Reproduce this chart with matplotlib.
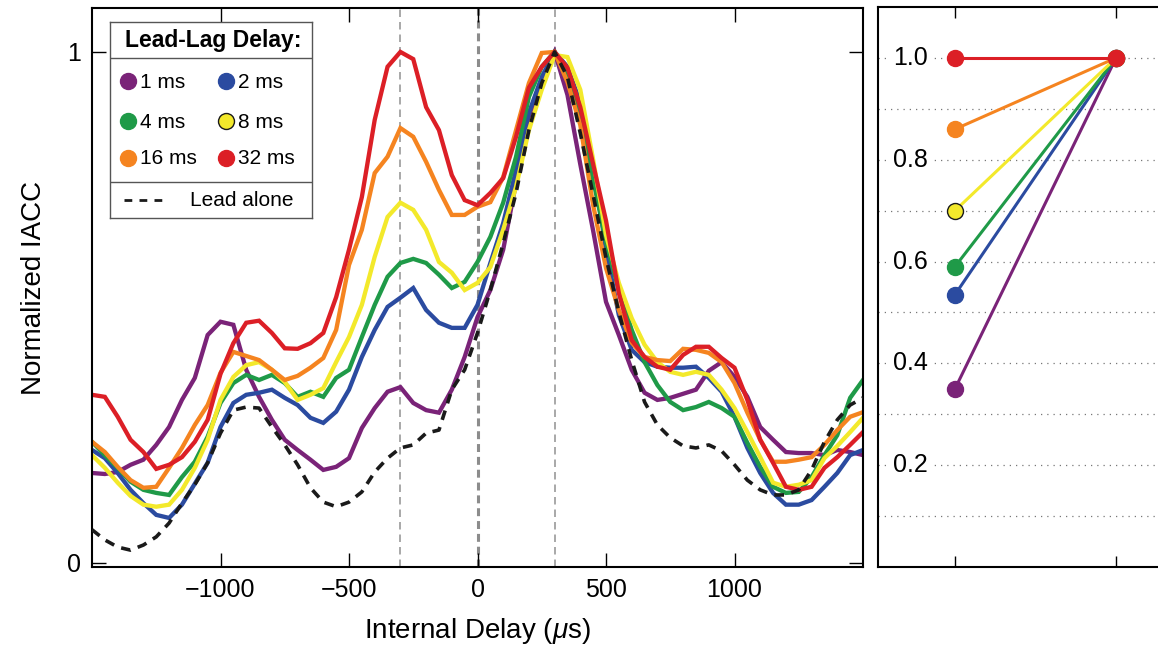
import numpy as np
import matplotlib
matplotlib.use("Agg")
import matplotlib.pyplot as plt

plt.rcParams["font.family"] = ["Liberation Sans", "DejaVu Sans"]
plt.rcParams["mathtext.fontset"] = "custom"
plt.rcParams["mathtext.it"] = "Liberation Sans:italic"
plt.rcParams["mathtext.rm"] = "Liberation Sans"

# internal delay grid (us)
delays = np.arange(-1500, 1501, 50)

lead_lag = ["1 ms", "2 ms", "4 ms", "8 ms", "16 ms", "32 ms"]
colors = ["#7a2378", "#2b4ba0", "#1f9a48", "#f3e92b", "#f58420", "#dc1f26"]

iacc_1ms = [0.176, 0.174, 0.178, 0.192, 0.202, 0.231, 0.266, 0.319, 0.362, 0.446,
            0.472, 0.466, 0.378, 0.325, 0.280, 0.241, 0.221, 0.202, 0.182, 0.188,
            0.205, 0.264, 0.303, 0.335, 0.344, 0.313, 0.299, 0.294, 0.339, 0.403,
            0.481, 0.534, 0.613, 0.744, 0.871, 0.945, 1.000, 0.916, 0.780, 0.650,
            0.511, 0.446, 0.378, 0.333, 0.319, 0.323, 0.331, 0.339, 0.376, 0.393,
            0.364, 0.325, 0.266, 0.241, 0.217, 0.215, 0.215, 0.211, 0.221, 0.217, 0.211]
iacc_2ms = [0.221, 0.205, 0.176, 0.143, 0.117, 0.094, 0.088, 0.114, 0.155, 0.196,
            0.266, 0.313, 0.329, 0.333, 0.339, 0.323, 0.309, 0.284, 0.274, 0.296,
            0.339, 0.403, 0.456, 0.501, 0.519, 0.538, 0.495, 0.470, 0.460, 0.460,
            0.505, 0.587, 0.665, 0.769, 0.881, 0.951, 1.000, 0.971, 0.900, 0.780,
            0.613, 0.485, 0.417, 0.393, 0.384, 0.382, 0.382, 0.384, 0.362, 0.335,
            0.286, 0.225, 0.176, 0.137, 0.114, 0.114, 0.123, 0.149, 0.176, 0.211, 0.221]
iacc_4ms = [0.237, 0.211, 0.186, 0.159, 0.143, 0.137, 0.133, 0.168, 0.198, 0.247,
            0.313, 0.352, 0.368, 0.358, 0.368, 0.352, 0.325, 0.335, 0.325, 0.362,
            0.378, 0.442, 0.505, 0.560, 0.587, 0.595, 0.587, 0.564, 0.538, 0.550,
            0.589, 0.638, 0.705, 0.795, 0.912, 0.971, 1.000, 0.955, 0.867, 0.750,
            0.628, 0.534, 0.456, 0.393, 0.348, 0.315, 0.299, 0.305, 0.315, 0.303,
            0.286, 0.235, 0.188, 0.149, 0.137, 0.139, 0.168, 0.211, 0.250, 0.323, 0.358]
iacc_8ms = [0.211, 0.186, 0.157, 0.131, 0.114, 0.110, 0.114, 0.143, 0.186, 0.241,
            0.319, 0.364, 0.387, 0.393, 0.378, 0.354, 0.319, 0.329, 0.342, 0.393,
            0.442, 0.505, 0.599, 0.677, 0.705, 0.691, 0.652, 0.589, 0.568, 0.534,
            0.548, 0.579, 0.652, 0.736, 0.847, 0.926, 0.994, 0.990, 0.926, 0.789,
            0.642, 0.548, 0.479, 0.427, 0.393, 0.374, 0.368, 0.374, 0.368, 0.339,
            0.303, 0.256, 0.207, 0.157, 0.149, 0.153, 0.162, 0.205, 0.229, 0.256, 0.284]
iacc_16ms = [0.237, 0.217, 0.188, 0.162, 0.147, 0.149, 0.186, 0.225, 0.270, 0.309,
             0.372, 0.413, 0.405, 0.397, 0.378, 0.358, 0.366, 0.382, 0.401, 0.456,
             0.583, 0.652, 0.763, 0.795, 0.851, 0.834, 0.785, 0.730, 0.681, 0.681,
             0.697, 0.706, 0.755, 0.847, 0.939, 0.998, 1.000, 0.941, 0.857, 0.700,
             0.577, 0.495, 0.431, 0.403, 0.397, 0.395, 0.419, 0.417, 0.411, 0.393,
             0.352, 0.294, 0.241, 0.198, 0.198, 0.202, 0.207, 0.231, 0.260, 0.286, 0.295]
iacc_32ms = [0.329, 0.325, 0.286, 0.241, 0.217, 0.184, 0.192, 0.207, 0.237, 0.280,
             0.370, 0.430, 0.470, 0.474, 0.450, 0.420, 0.419, 0.430, 0.450, 0.520,
             0.613, 0.716, 0.867, 0.971, 1.000, 0.986, 0.892, 0.847, 0.759, 0.710,
             0.700, 0.724, 0.753, 0.834, 0.930, 0.971, 1.000, 0.969, 0.892, 0.780,
             0.670, 0.528, 0.436, 0.403, 0.384, 0.378, 0.407, 0.423, 0.423, 0.401,
             0.382, 0.319, 0.241, 0.196, 0.149, 0.143, 0.149, 0.186, 0.207, 0.231, 0.256]
lead_alone = [0.065, 0.045, 0.031, 0.025, 0.035, 0.051, 0.078, 0.117, 0.153, 0.196,
              0.254, 0.299, 0.305, 0.303, 0.266, 0.231, 0.192, 0.147, 0.119, 0.110,
              0.119, 0.139, 0.178, 0.205, 0.225, 0.231, 0.254, 0.260, 0.339, 0.378,
              0.450, 0.534, 0.626, 0.724, 0.847, 0.939, 1.000, 0.951, 0.841, 0.720,
              0.597, 0.491, 0.397, 0.315, 0.270, 0.245, 0.229, 0.225, 0.231, 0.219,
              0.192, 0.162, 0.143, 0.133, 0.133, 0.143, 0.182, 0.237, 0.280, 0.309, 0.323]

curves = [iacc_1ms, iacc_2ms, iacc_4ms, iacc_8ms, iacc_16ms, iacc_32ms]

# IACC at -300 us relative to the +300 us peak
lag_peak = [0.35, 0.535, 0.59, 0.70, 0.86, 1.0]
lead_peak = [1.0, 1.0, 1.0, 1.0, 1.0, 1.0]

W, H = 1158, 647
fig = plt.figure(figsize=(W / 100, H / 100), dpi=100)

# --- left panel: cross-correlation functions ---
ax = fig.add_axes([92 / W, 1 - 567 / H, 771 / W, 559 / H])
ax.axvline(-300, color="#9a9a9a", lw=1.2, ls=(0, (4.5, 3)), zorder=1)
ax.axvline(0, color="#8c8c8c", lw=2.2, ls=(0, (2.6, 1.6)), zorder=1)
ax.axvline(300, color="#9a9a9a", lw=1.2, ls=(0, (4.5, 3)), zorder=1)

for vals, c in zip(curves, colors):
    ax.plot(delays, vals, color=c, lw=3.1, solid_joinstyle="miter", zorder=2)
ax.plot(delays, lead_alone, color="#1a1a1a", lw=2.6, ls=(0, (2.7, 2.1)), zorder=3)

ax.set_xlim(-1500, 1500)
ax.set_ylim(-0.008, 1.086)
ax.set_xticks([-1000, -500, 0, 500, 1000])
ax.set_yticks([0, 1])
ax.set_yticklabels(["0", "1"])
ax.tick_params(direction="in", length=10, width=1, top=True, right=True,
               labelsize=18, pad=8)
for s in ax.spines.values():
    s.set_linewidth(1.5)
ax.set_xlabel("Internal Delay ($\\mu$s)", fontsize=20, labelpad=10)
ax.set_ylabel("Normalized IACC", fontsize=20, labelpad=14)

# --- legend box ---
lg = fig.add_axes([110 / W, 1 - 218 / H, 202 / W, 196 / H])
lg.set_xlim(0, 202)
lg.set_ylim(196, 0)
lg.set_xticks([])
lg.set_yticks([])
for s in lg.spines.values():
    s.set_linewidth(1.0)
    s.set_color("#555555")
lg.text(103, 18, "Lead-Lag Delay:", fontsize=16.5, fontweight="bold",
        ha="center", va="center")
lg.plot([0, 202], [36, 36], color="#555555", lw=1.0)
lg.plot([0, 202], [160, 160], color="#555555", lw=1.0)
rows = [59, 99, 136]
cols = [18, 116]
for i, (name, c) in enumerate(zip(lead_lag, colors)):
    r, k = divmod(i, 2)
    edge = "#1a1a1a" if name == "8 ms" else c
    lg.plot(cols[k], rows[r], "o", ms=11.5, color=c, mec=edge, mew=1.0)
    lg.text(cols[k] + 12, rows[r] + 1, name, fontsize=15, ha="left", va="center")
lg.plot([14, 54], [178, 178], color="#1a1a1a", lw=2.0, ls=(0, (2.8, 2.6)))
lg.text(80, 179, "Lead alone", fontsize=15, ha="left", va="center")

# --- right panel: lag peak vs lead peak ---
axr = fig.add_axes([878 / W, 1 - 567 / H, 315 / W, 560 / H])
axr.set_xlim(0.522, 2.478)
axr.set_ylim(0, 1.1)
for g in np.arange(1, 11) / 10:
    axr.axhline(g, color="#777777", lw=0.9, ls=(0, (1, 4)), zorder=0)
for g in [0.2, 0.4, 0.6, 0.8, 1.0]:
    axr.text(0.048, g, f"{g:.1f}", transform=axr.get_yaxis_transform(),
             fontsize=18, ha="left", va="center", zorder=1,
             bbox=dict(fc="white", ec="none", pad=1.5))
for lo, hi, name, c in zip(lag_peak, lead_peak, lead_lag, colors):
    edge = "#1a1a1a" if name == "8 ms" else c
    axr.plot([1, 2], [lo, hi], color=c, lw=2.2, marker="o", ms=11.5,
             mfc=c, mec=edge, mew=1.0, zorder=3)
axr.set_xticks([1, 2])
axr.set_xticklabels([])
axr.set_yticks([])
axr.tick_params(axis="x", direction="in", length=8, width=1, top=True)
for s in axr.spines.values():
    s.set_linewidth(1.5)

fig.savefig("out.png", dpi=100)
